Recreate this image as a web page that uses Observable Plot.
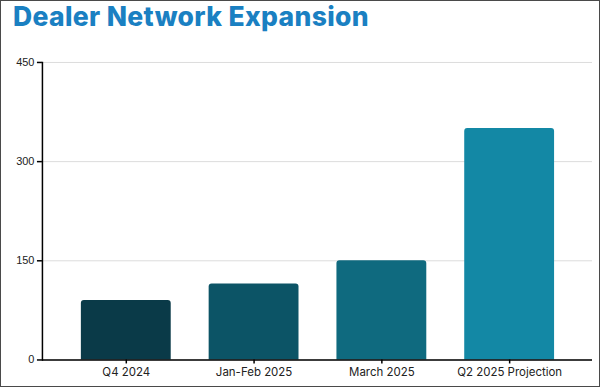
<!DOCTYPE html>
<html>
<head>
<meta charset="utf-8">
<script src="https://cdn.jsdelivr.net/npm/d3@7"></script>
<script src="https://cdn.jsdelivr.net/npm/@observablehq/plot@0.6"></script>
<style>
  html, body { margin: 0; padding: 0; background: #fff; }
  #frame { position: absolute; left: 0; top: 0; width: 600px; height: 387px; box-sizing: border-box; border: 1px solid #4a4a4a; background: #fff; overflow: hidden; }
  #title { position: absolute; left: 12px; top: -2px; font-family: Inter, "Open Sans", sans-serif; font-weight: 800; font-size: 26.5px; color: #1a80c2; letter-spacing: 0.35px; line-height: 34px; white-space: nowrap; }
  #chart { position: absolute; left: -1px; top: 39px; }
</style>
</head>
<body>
<div id="frame">
  <div id="title">Dealer Network Expansion</div>
  <div id="chart"></div>
</div>
<script>
const categories = ["Q4 2024", "Jan-Feb 2025", "March 2025", "Q2 2025 Projection"];
const dealers = [90, 115, 150, 350];
const colors = ["#0a3a48", "#0c5466", "#0f6a7f", "#1388a5"];
const yTicks = [0, 150, 300, 450];

const data = categories.map((c, i) => ({category: c, value: dealers[i], color: colors[i]}));

const chart = Plot.plot({
  width: 600,
  height: 345,
  marginTop: 22,
  marginBottom: 25,
  marginLeft: 42,
  marginRight: 7,
  style: {fontFamily: "Inter, sans-serif", fontSize: "11px", color: "#222", background: "transparent"},
  x: {domain: categories, padding: 0.3, label: null},
  y: {domain: [0, 450], ticks: yTicks, label: null},
  marks: [
    Plot.gridY(yTicks, {stroke: "#dcdcdc", strokeOpacity: 1, strokeWidth: 1}),
    Plot.barY(data, {x: "category", y: "value", fill: "color", ry1: 3}),
    Plot.axisY({ticks: yTicks, tickSize: 5, tickPadding: 3, fontFamily: "'Liberation Sans', Arial, sans-serif", fontSize: 11, stroke: "#000", strokeWidth: 1.5, label: null}),
    Plot.axisX({tickSize: 4, tickPadding: 4, fontSize: 11.5, stroke: "#000", strokeWidth: 1.5, label: null}),
    Plot.frame({anchor: "left", stroke: "#000", strokeWidth: 1.5}),
    Plot.ruleY([0], {stroke: "#000", strokeWidth: 1.5})
  ]
});
document.getElementById("chart").appendChild(chart);
</script>
</body>
</html>
